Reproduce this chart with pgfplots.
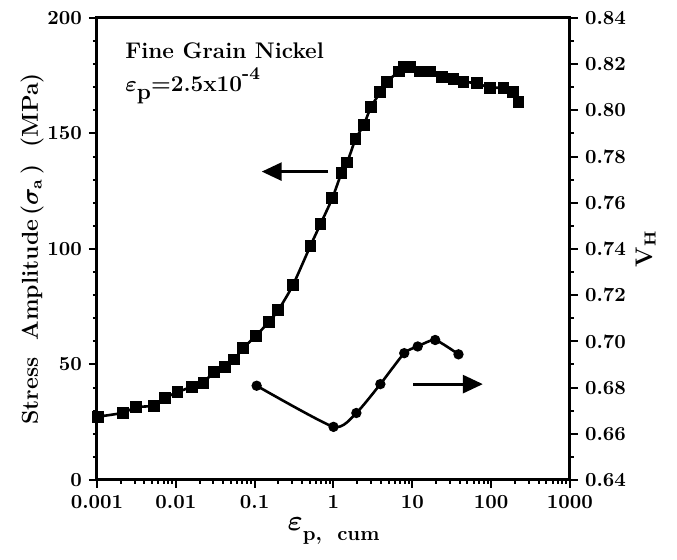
\documentclass[border=0pt]{standalone}
\usepackage{pgfplots}
\pgfplotsset{compat=1.18}
\usetikzlibrary{arrows.meta}
\pgfplotstableread{
x s
0.00102 27.4
0.00215 29.1
0.0031 31.5
0.0053 32.2
0.0073 35.6
0.0105 38.0
0.016 40.4
0.0224 42.1
0.0305 46.9
0.042 49.0
0.055 52.2
0.071 57.0
0.103 62.3
0.152 68.5
0.2 73.6
0.305 84.3
0.51 101.4
0.684 110.8
0.964 121.9
1.26 132.8
1.49 137.4
1.9 147.5
2.42 153.7
3.0 161.6
3.93 167.8
4.78 172.4
6.7 176.8
7.77 178.7
9.4 178.7
12.6 176.8
16.9 176.8
23.8 174.6
33.3 173.5
44.7 172.4
65.9 171.7
97 169.8
143 169.8
191 168.0
222 163.8
}\stress
\pgfplotstableread{
x v
0.106 0.6808
1.0 0.6630
1.95 0.6690
3.93 0.6815
7.9 0.6949
11.7 0.6978
19.5 0.7006
38.5 0.6944
}\vh
\begin{document}
\begin{tikzpicture}
\begin{axis}[
  width=236.5pt, height=231pt, scale only axis,
  xmode=log, xmin=0.001, xmax=1000,
  tick align=outside,
  major tick length=4pt, minor tick length=2pt,
  every tick/.style={black, line width=1pt},
  axis line style={line width=1.5pt},
  tick label style={font=\bfseries},
  /pgf/number format/assume math mode=true,
  label style={font=\bfseries},
  ymin=0, ymax=200, ytick={0,50,100,150,200}, minor y tick num=4,
  xtick={0.001,0.01,0.1,1,10,100,1000},
  xticklabels={0.001,0.01,0.1,1,10,100,1000},
  minor xtick={0.002,0.003,0.004,0.005,0.006,0.007,0.008,0.009,
    0.02,0.03,0.04,0.05,0.06,0.07,0.08,0.09,
    0.2,0.3,0.4,0.5,0.6,0.7,0.8,0.9,
    2,3,4,5,6,7,8,9,20,30,40,50,60,70,80,90,
    200,300,400,500,600,700,800,900},
  xtick pos=lower, ytick pos=left,
  xlabel={{\Large\boldmath$\varepsilon$}\raisebox{-5pt}{p,\ \ cum}},
  ylabel={Stress\ \ Amplitude\,({\boldmath$\sigma_{\mathbf a}$}\,)\ \ (MPa)},
  xlabel style={yshift=2pt},
  ylabel style={font=\fontsize{11.5}{13}\selectfont\bfseries, yshift=-5pt},
]
\addplot[black, line width=1.3pt, smooth, tension=0.4, mark=square*, mark size=2.3pt] table[x=x,y=s] {\stress};
\draw[black, line width=1.4pt, -{Triangle[length=10pt,width=9pt]}] (axis cs:0.853,133.5) -- (axis cs:0.123,133.5);
\draw[black, line width=1.4pt, -{Triangle[length=10pt,width=9pt]}] (axis cs:10.3,41.5) -- (axis cs:78.5,41.5);
\node[anchor=base west, inner sep=0pt, font=\fontsize{11.3}{13}\selectfont\bfseries] at (rel axis cs:0.059,0.913) {Fine Grain Nickel};
\node[anchor=base west, inner sep=0pt, font=\fontsize{11.3}{13}\selectfont\bfseries] at (rel axis cs:0.059,0.84) {{\boldmath$\varepsilon$}\raisebox{-4pt}{p}=2.5x10\raisebox{6pt}{\small -4}};
\end{axis}
\begin{axis}[
  width=236.5pt, height=231pt, scale only axis,
  xmode=log, xmin=0.001, xmax=1000,
  tick align=outside,
  major tick length=4pt, minor tick length=2pt,
  every tick/.style={black, line width=1pt},
  axis line style={line width=1.5pt},
  tick label style={font=\bfseries},
  label style={font=\bfseries},
  axis y line*=right, hide x axis,
  ymin=0.64, ymax=0.84,
  ytick={0.64,0.66,0.68,0.70,0.72,0.74,0.76,0.78,0.80,0.82,0.84},
  yticklabels={0.64,0.66,0.68,0.70,0.72,0.74,0.76,0.78,0.80,0.82,0.84},
  minor y tick num=1,
  ylabel={$\mathbf{V_H}$},
  ylabel style={font=\large\bfseries, yshift=2pt},
]
\addplot[black, line width=1.3pt, smooth, tension=0.35, mark=*, mark size=1.9pt] table[x=x,y=v] {\vh};
\end{axis}
\path (-48.5pt,-40pt) rectangle (290pt,240pt);
\end{tikzpicture}
\end{document}
